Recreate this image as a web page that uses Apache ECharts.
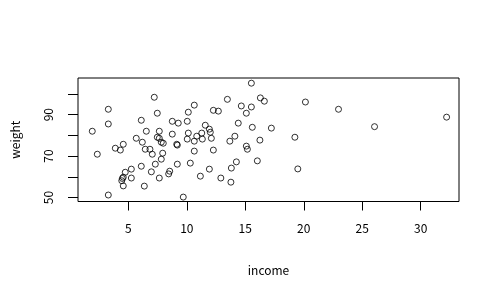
<!DOCTYPE html>
<html><head><meta charset="utf-8">
<script src="https://cdn.jsdelivr.net/npm/echarts@6/dist/echarts.min.js"></script>
<style>html,body{margin:0;padding:0;background:#fff}#c{width:500px;height:300px}</style>
</head><body><div id="c"></div>
<script>
const income = [1.92,2.35,3.29,3.29,3.29,3.89,4.32,4.57,5.26,4.74,4.57,4.49,4.44,4.57,5.26,5.68,6.11,6.20,6.54,6.45,6.85,7.05,6.11,6.97,6.37,7.22,7.48,7.65,7.48,7.65,7.82,7.99,7.94,7.82,7.31,7.65,8.45,8.54,8.76,9.27,8.76,9.14,9.19,9.19,9.70,10.04,10.13,10.64,10.13,10.04,10.64,10.85,11.28,11.33,11.58,10.64,10.30,11.16,11.93,11.93,12.01,12.10,15.52,13.47,16.29,16.63,20.14,22.97,14.66,15.52,15.09,12.27,12.70,14.40,15.60,17.23,14.11,13.68,16.25,19.24,15.09,15.18,12.27,14.24,13.81,16.03,19.49,12.91,13.77,26.05,32.21];
const weight = [82.0,70.9,92.6,85.5,51.2,73.8,72.9,75.7,63.7,62.2,59.8,59.2,58.1,55.6,59.4,78.6,87.3,76.7,82.0,73.3,73.3,70.9,65.1,62.4,55.5,98.4,90.7,82.0,79.1,78.6,76.7,76.2,71.4,68.5,66.1,59.4,61.4,62.7,86.8,85.9,80.6,75.7,75.3,66.1,50.2,86.8,91.2,94.6,81.1,78.2,77.2,79.6,81.1,78.2,84.9,72.4,66.6,60.3,63.7,83.0,81.5,78.6,105.2,97.4,98.1,96.5,96.1,92.6,94.2,93.7,90.7,92.1,91.7,85.9,83.9,83.5,79.6,77.2,77.7,79.1,74.8,73.3,72.9,67.2,64.2,67.7,63.8,59.4,57.4,84.2,88.8];
const xTicks = [5,10,15,20,25,30];
const yTicks = [50,60,70,80,90,100];
const yLabels = [50,70,90];

const font = '"Noto Sans CJK JP", "DejaVu Sans", sans-serif';
const chart = echarts.init(document.getElementById('c'), null, {renderer:'canvas'});
chart.setOption({
  animation:false,
  backgroundColor:'#fff',
  grid:{left:78, top:78, width:381, height:123.5, show:true, borderColor:'#000', borderWidth:1, backgroundColor:'transparent'},
  xAxis:{type:'value', min:0.70, max:33.27, name:'income', nameLocation:'middle', nameGap:63,
    nameTextStyle:{color:'#000', fontSize:12, fontFamily:font},
    axisLine:{show:false},
    axisTick:{show:true, inside:false, length:9, customValues:xTicks, lineStyle:{color:'#000', width:1}},
    axisLabel:{color:'#000', fontSize:12, fontFamily:font, margin:21, customValues:xTicks},
    splitLine:{show:false}},
  yAxis:{type:'value', min:48.07, max:107.7, name:'weight', nameLocation:'middle', nameGap:57, nameRotate:90,
    nameTextStyle:{color:'#000', fontSize:12, fontFamily:font},
    axisLine:{show:false},
    axisTick:{show:true, inside:false, length:10, customValues:yTicks, lineStyle:{color:'#000', width:1}},
    axisLabel:{color:'#000', fontSize:12, fontFamily:font, margin:24, rotate:90, customValues:yLabels},
    splitLine:{show:false}},
  series:[{type:'scatter', data: income.map((v,i)=>[v, weight[i]]), symbol:'circle', symbolSize:6,
    itemStyle:{color:'transparent', borderColor:'#000', borderWidth:1}, silent:true}]
});
</script></body></html>
